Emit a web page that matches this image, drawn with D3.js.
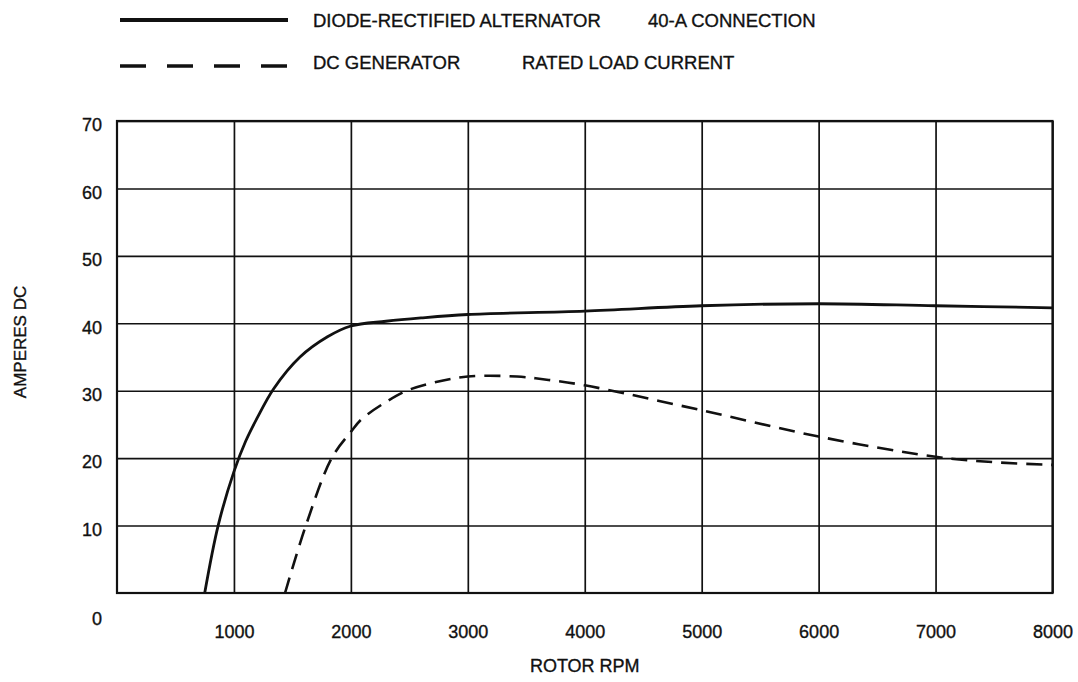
<!DOCTYPE html>
<html>
<head>
<meta charset="utf-8">
<script src="https://cdn.jsdelivr.net/npm/d3@7"></script>
<style>
  body { margin: 0; background: #fff; }
  #graf { width: 1078px; height: 682px; }
  text { font-family: "Liberation Sans", Arial, sans-serif; fill: #111; stroke: #111; stroke-width: 0.35px; }
</style>
</head>
<body>
<div id="graf"></div>
<script>
// datos
const rpmAlternador = [750, 865, 1000, 1100, 1200, 1340, 1565, 1800, 2000, 2300, 2600, 3000, 4000, 5000, 6000, 7000, 8000];
const ampAlternador = [0, 10, 18, 22.5, 26, 30.3, 35, 38, 39.6, 40.3, 40.8, 41.3, 41.8, 42.6, 42.9, 42.6, 42.3];

const rpmGenerador = [1437, 1615, 1836, 2000, 2093, 2307, 2478, 2705, 3000, 3420, 3690, 4000, 5000, 6000, 7000, 7500, 8000];
const ampGenerador = [0, 10, 20, 23.9, 25.8, 28.4, 30, 31.2, 32.1, 32.1, 31.6, 30.8, 27.1, 23.2, 20.2, 19.4, 19.0];

const ticksX = [1000, 2000, 3000, 4000, 5000, 6000, 7000, 8000];
const ticksY = [10, 20, 30, 40, 50, 60, 70];

const leyenda1 = ["DIODE-RECTIFIED ALTERNATOR", "40-A CONNECTION"];
const leyenda2 = ["DC GENERATOR", "RATED LOAD CURRENT"];

const ancho_total = 1078;
const alto_total = 682;
const margins = { top: 121, left: 117, right: 25.5, bottom: 89 };
const ancho = ancho_total - margins.left - margins.right;
const alto = alto_total - margins.top - margins.bottom;

const root = d3
  .select("#graf")
  .append("svg")
  .attr("width", ancho_total)
  .attr("height", alto_total);

const svg = root
  .append("g")
  .attr("transform", `translate(${margins.left}, ${margins.top})`);

const x = d3.scaleLinear().domain([0, 8000]).range([0, ancho]);
const y = d3.scaleLinear().domain([0, 70]).range([alto, 0]);

// rejilla
svg
  .append("g")
  .attr("class", "grid")
  .call(d3.axisBottom(x).tickValues(ticksX).tickSize(alto).tickFormat(""))
  .call((g) => g.select(".domain").remove())
  .selectAll("line")
  .attr("stroke", "#111")
  .attr("stroke-width", 1.7);

svg
  .append("g")
  .attr("class", "grid")
  .call(d3.axisLeft(y).tickValues(ticksY).tickSize(-ancho).tickFormat(""))
  .call((g) => g.select(".domain").remove())
  .selectAll("line")
  .attr("stroke", "#111")
  .attr("stroke-width", 1.6);

svg
  .append("rect")
  .attr("x", 0)
  .attr("y", 0)
  .attr("width", ancho)
  .attr("height", alto)
  .attr("fill", "none")
  .attr("stroke", "#111")
  .attr("stroke-width", 2.2);

// etiquetas de los ejes
svg
  .append("g")
  .attr("transform", `translate(0, ${alto + 37})`)
  .call(d3.axisBottom(x).tickValues(ticksX).tickSize(0).tickFormat(d3.format("d")))
  .call((g) => g.select(".domain").remove())
  .selectAll("text")
  .attr("font-size", "18px")
  .attr("dy", "0")
  .attr("dominant-baseline", "middle");

svg
  .append("g")
  .attr("transform", "translate(-12, 5)")
  .call(d3.axisLeft(y).tickValues(ticksY).tickSize(0))
  .call((g) => g.select(".domain").remove())
  .selectAll("text")
  .attr("font-size", "18px")
  .attr("dy", "0")
  .attr("dominant-baseline", "middle");

svg
  .append("text")
  .attr("x", -20)
  .attr("y", alto + 27)
  .attr("text-anchor", "middle")
  .attr("dominant-baseline", "middle")
  .attr("font-size", "18px")
  .text("0");

svg
  .append("text")
  .attr("x", ancho / 2)
  .attr("y", alto + 74)
  .attr("text-anchor", "middle")
  .attr("dominant-baseline", "middle")
  .attr("font-size", "18px")
  .text("ROTOR RPM");

svg
  .append("text")
  .attr("transform", `translate(-95, ${alto / 2 - 15}) rotate(-90)`)
  .attr("text-anchor", "middle")
  .attr("dominant-baseline", "middle")
  .attr("font-size", "17px")
  .text("AMPERES DC");

// curvas
const linea = d3
  .line()
  .x((d) => x(d[0]))
  .y((d) => y(d[1]))
  .curve(d3.curveCatmullRom.alpha(0.5));

const alternador = rpmAlternador.map((r, i) => [r, ampAlternador[i]]);
const generador = rpmGenerador.map((r, i) => [r, ampGenerador[i]]);

svg
  .append("path")
  .datum(alternador)
  .attr("d", linea)
  .attr("fill", "none")
  .attr("stroke", "#111")
  .attr("stroke-width", 2.8);

svg
  .append("path")
  .datum(generador)
  .attr("d", linea)
  .attr("fill", "none")
  .attr("stroke", "#111")
  .attr("stroke-width", 2.6)
  .attr("stroke-dasharray", "16 9");

// leyenda
const ley = root.append("g");

ley
  .append("line")
  .attr("x1", 120)
  .attr("x2", 288)
  .attr("y1", 20)
  .attr("y2", 20)
  .attr("stroke", "#111")
  .attr("stroke-width", 4);

ley
  .append("line")
  .attr("x1", 120)
  .attr("x2", 288)
  .attr("y1", 66)
  .attr("y2", 66)
  .attr("stroke", "#111")
  .attr("stroke-width", 3.5)
  .attr("stroke-dasharray", "26 21");

const posTexto = [313, 648];
const posTexto2 = [313, 522];

leyenda1.forEach((t, i) => {
  ley
    .append("text")
    .attr("x", posTexto[i])
    .attr("y", 22)
    .attr("dominant-baseline", "middle")
    .attr("font-size", "18.5px")
    .text(t);
});

leyenda2.forEach((t, i) => {
  ley
    .append("text")
    .attr("x", posTexto2[i])
    .attr("y", 64)
    .attr("dominant-baseline", "middle")
    .attr("font-size", "18.5px")
    .text(t);
});
</script>
</body>
</html>
